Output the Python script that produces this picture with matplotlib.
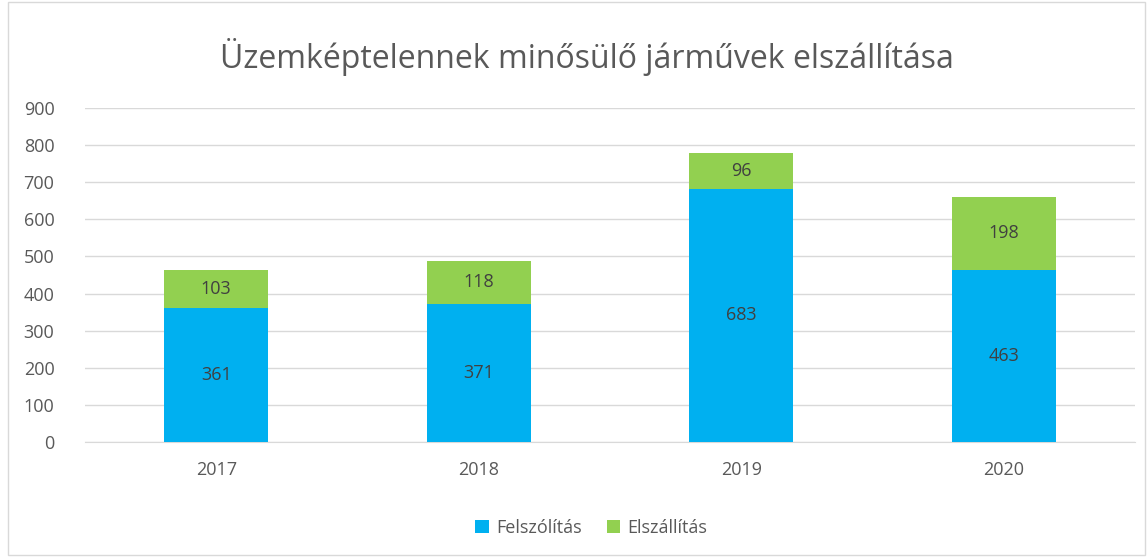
import matplotlib
matplotlib.use("Agg")
import matplotlib.pyplot as plt
from matplotlib.patches import Rectangle
import numpy as np

years = ["2017", "2018", "2019", "2020"]
felszolitas = [361, 371, 683, 463]
elszallitas = [103, 118, 96, 198]
yticks = [0, 100, 200, 300, 400, 500, 600, 700, 800, 900]

plt.rcParams['font.family'] = ['Open Sans', 'DejaVu Sans']
txt = '#595959'
blue = '#00B0F0'
green = '#92D050'

fig = plt.figure(figsize=(11.48, 5.57), dpi=100)
ax = fig.add_axes([85 / 1148, 0.2065, 1050 / 1148, 0.5995])
x = np.arange(len(years))
w = 0.396
b1 = ax.bar(x, felszolitas, w, color=blue, label='Felszólítás', zorder=3)
b2 = ax.bar(x, elszallitas, w, bottom=felszolitas, color=green, label='Elszállítás', zorder=3)
for i in range(len(years)):
    ax.text(x[i], felszolitas[i] / 2, str(felszolitas[i]), ha='center', va='center', fontsize=13, color='#404040', zorder=4)
    ax.text(x[i], felszolitas[i] + elszallitas[i] / 2, str(elszallitas[i]), ha='center', va='center', fontsize=13, color='#404040', zorder=4)

ax.set_xlim(-0.5, 3.5)
ax.set_ylim(0, 900)
ax.set_yticks(yticks)
ax.set_yticklabels([str(t) for t in yticks])
ax.set_xticks(x)
ax.set_xticklabels(years)
ax.tick_params(axis='both', length=0, labelsize=13, colors=txt)
ax.tick_params(axis='y', pad=22)
ax.tick_params(axis='x', pad=14)
ax.grid(axis='y', color='#D9D9D9', linewidth=1, zorder=0)
for s in ['top', 'right', 'left']:
    ax.spines[s].set_visible(False)
ax.spines['bottom'].set_color('#D9D9D9')
ax.set_axisbelow(True)

fig.text(0.511, 0.898, 'Üzemképtelennek minősülő járművek elszállítása', ha='center', va='center', fontsize=23, color=txt)
fig.legend(handles=[b1, b2], loc='center', bbox_to_anchor=(0.515, 0.052), ncol=2, frameon=False,
           fontsize=13, handlelength=0.75, handleheight=0.75, columnspacing=1.4, handletextpad=0.4,
           labelcolor=txt)
fig.patches.append(Rectangle((0.007, 0.003), 0.99, 0.994, transform=fig.transFigure, fill=False,
                             edgecolor='#D9D9D9', linewidth=1))
fig.savefig('out.png', dpi=100)
